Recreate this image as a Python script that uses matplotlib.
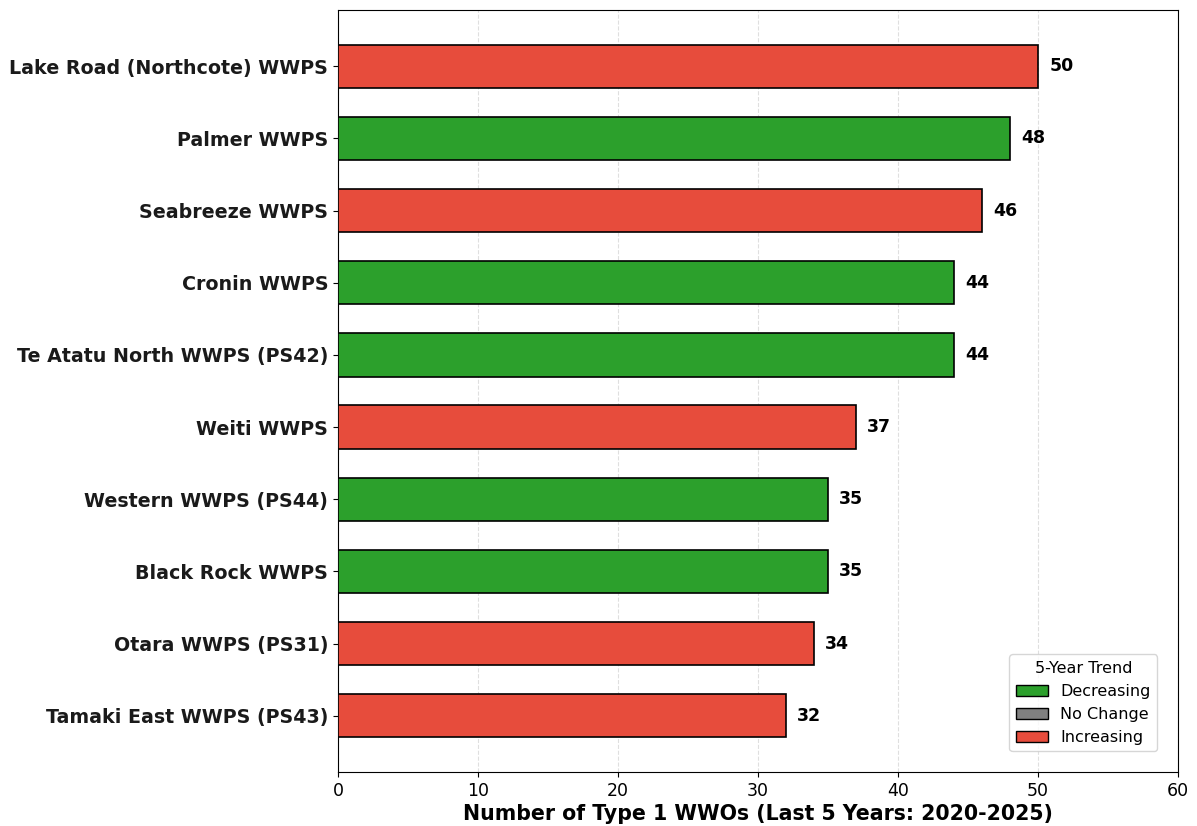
import matplotlib
matplotlib.use("Agg")
import matplotlib.pyplot as plt
from matplotlib.patches import Patch

stations = [
    "Lake Road (Northcote) WWPS",
    "Palmer WWPS",
    "Seabreeze WWPS",
    "Cronin WWPS",
    "Te Atatu North WWPS (PS42)",
    "Weiti WWPS",
    "Western WWPS (PS44)",
    "Black Rock WWPS",
    "Otara WWPS (PS31)",
    "Tamaki East WWPS (PS43)",
]
wwo_counts = [50, 48, 46, 44, 44, 37, 35, 35, 34, 32]
trends = ["Increasing", "Decreasing", "Increasing", "Decreasing", "Decreasing",
          "Increasing", "Decreasing", "Decreasing", "Increasing", "Increasing"]

trend_colors = {"Decreasing": "#2ca02c", "No Change": "#808080", "Increasing": "#e74c3c"}

fig, ax = plt.subplots(figsize=(11.97, 8.26), dpi=100)
fig.subplots_adjust(left=0.2824, right=0.9841, top=0.9879, bottom=0.0654)

ypos = list(range(len(stations)))[::-1]
colors = [trend_colors[t] for t in trends]
ax.barh(ypos, wwo_counts, height=0.6, color=colors, edgecolor="black", linewidth=1.2, zorder=3)

for y, v in zip(ypos, wwo_counts):
    ax.text(v + 0.8, y, str(v), va="center", ha="left", fontsize=12.5, fontweight="bold")

ax.set_yticks(ypos)
ax.set_yticklabels(stations, fontsize=13.7, fontweight="bold", color="#1a1a1a")
ax.set_xlim(0, 60)
ax.tick_params(axis="x", labelsize=12.5)
ax.set_xlabel("Number of Type 1 WWOs (Last 5 Years: 2020-2025)", fontsize=14.8, fontweight="bold",
              labelpad=3)
ax.xaxis.grid(True, linestyle="--", alpha=0.4, zorder=0)
ax.set_axisbelow(True)

handles = [Patch(facecolor=trend_colors[k], edgecolor="black", label=k)
           for k in ["Decreasing", "No Change", "Increasing"]]
ax.legend(handles=handles, title="5-Year Trend", loc="lower right", fontsize=11.5,
          title_fontsize=11.5, labelspacing=0.5, borderaxespad=1.3)

plt.savefig("out.png", dpi=100)
